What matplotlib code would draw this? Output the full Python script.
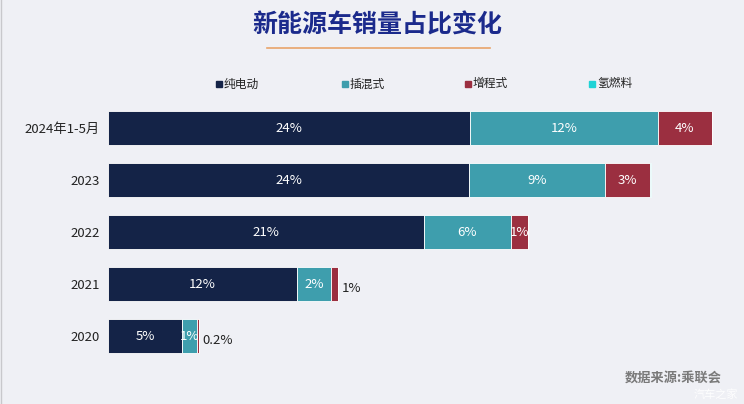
import matplotlib
matplotlib.use("Agg")
import matplotlib.pyplot as plt
import numpy as np

plt.rcParams['font.family'] = ['Noto Sans CJK SC', 'DejaVu Sans']

categories = ["2024年1-5月", "2023", "2022", "2021", "2020"]
series_names = ["纯电动", "插混式", "增程式", "氢燃料"]
bev = [24.0, 23.9, 20.9, 12.5, 4.9]
phev = [12.4, 9.0, 5.8, 2.25, 1.0]
erev = [3.6, 3.0, 1.1, 0.5, 0.13]
fcev = [0.0, 0.05, 0.0, 0.0, 0.0]
bev_labels = ["24%", "24%", "21%", "12%", "5%"]
phev_labels = ["12%", "9%", "6%", "2%", "1%"]
erev_labels = ["4%", "3%", "1%", "1%", "0.2%"]
erev_inside = [True, True, True, False, False]

colors = ["#142347", "#3e9ead", "#9b2f40", "#1fd3d6"]
bg = "#eff0f5"

W, H = 744, 404
fig = plt.figure(figsize=(W / 100, H / 100), dpi=100, facecolor=bg)
ax = fig.add_axes([108 / W, 1 - 362 / H, (730 - 108) / W, 260 / H])
ax.set_facecolor(bg)

y = np.arange(len(categories))
left = np.zeros(len(categories))
all_series = [bev, phev, erev, fcev]
for vals, col in zip(all_series, colors):
    ax.barh(y, vals, left=left, height=0.65, color=col, edgecolor="white", linewidth=0.6)
    left = left + np.array(vals)

ax.set_xlim(0, 622 / 15.1)
ax.set_ylim(len(categories) - 0.5, -0.5)
for s in ax.spines.values():
    s.set_visible(False)
ax.set_xticks([])
ax.set_yticks(y)
ax.set_yticklabels(categories, fontsize=9.5, color="#222222")
ax.tick_params(axis="y", length=0, pad=6)

# labels
for i in range(len(categories)):
    ax.text(bev[i] / 2, i, bev_labels[i], ha="center", va="center", color="white", fontsize=9.5)
    ax.text(bev[i] + phev[i] / 2, i, phev_labels[i], ha="center", va="center", color="white", fontsize=9.5)
    if erev_inside[i]:
        ax.text(bev[i] + phev[i] + erev[i] / 2, i, erev_labels[i], ha="center", va="center",
                color="white", fontsize=9.5)
    else:
        ax.text(bev[i] + phev[i] + erev[i] + fcev[i] + 0.25, i + 0.08, erev_labels[i], ha="left",
                va="center", color="#222222", fontsize=9.5)

# title
fig.text(377 / W, 1 - 25 / H, "新能源车销量占比变化", ha="center", va="center",
         fontsize=18, fontweight="heavy", color="#1b2a8c")
fig.add_artist(plt.Line2D([267 / W, 490 / W], [1 - 48 / H, 1 - 48 / H], color="#e8a46a", linewidth=1.2))

# legend
leg_x = [219, 345, 468, 592]
for name, col, lx in zip(series_names, colors, leg_x):
    fig.add_artist(plt.Rectangle(((lx - 3) / W, 1 - 87 / H), 6 / W, 6 / H, color=col))
    fig.text((lx + 5) / W, 1 - 84 / H, name, ha="left", va="center", fontsize=8.5,
             color="#222222", fontweight="medium")

# source
fig.text(722 / W, 1 - 378 / H, "数据来源:乘联会", ha="right", va="center", fontsize=9.5,
         fontweight="bold", color="#7a7a7a")
fig.text(738 / W, 1 - 395 / H, "汽车之家", ha="right", va="center", fontsize=8,
         color="white", alpha=0.9)

fig.add_artist(plt.Line2D([0.5 / W, 0.5 / W], [0, 1], color="#c8c8cc", linewidth=1))

fig.savefig("out.png", dpi=100, facecolor=bg)
